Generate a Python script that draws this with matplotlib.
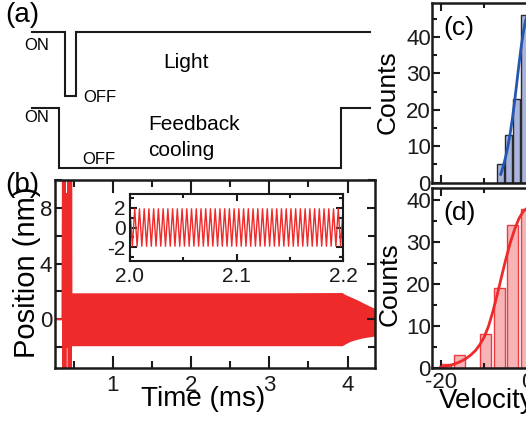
import numpy as np
import matplotlib
matplotlib.use('Agg')
import matplotlib.pyplot as plt
from matplotlib.ticker import MultipleLocator, FixedLocator

plt.rcParams['font.family'] = ['Liberation Sans', 'DejaVu Sans']
plt.rcParams['axes.unicode_minus'] = False

# ---------------- data ----------------
# (a) timing schematic (time in ms, state 1 = ON, 0 = OFF)
light_t = [-0.03, 0.385, 0.385, 0.525, 0.525, 4.29]
light_state = [1, 1, 0, 0, 1, 1]
fb_t = [-0.03, 0.31, 0.31, 3.91, 3.91, 4.29]
fb_state = [1, 1, 0, 0, 1, 1]

# (b) position trace: early part (spikes) and envelope of the fast oscillation
pre_t = [0.26, 0.356, 0.362, 0.368, 0.374, 0.380, 0.386, 0.392, 0.405, 0.415,
         0.430, 0.436, 0.442, 0.448, 0.454, 0.460, 0.466, 0.470]
pre_x = [0, 0, 11, -4, 11, -4, 11, -4, 9, -2, 11, -4, 11, -4, 11, -4, 11, 0]
env_t = [0.47, 1.0, 2.0, 3.0, 3.93, 3.96, 4.02, 4.08, 4.15, 4.21, 4.28, 4.35]
env_upper = [1.9, 1.9, 1.9, 1.9, 1.92, 1.8, 1.65, 1.5, 1.32, 1.14, 0.95, 0.77]
env_lower = [-1.9, -1.9, -1.9, -1.9, -1.9, -1.8, -1.62, -1.5, -1.4, -1.32, -1.26, -1.2]
# inset: zoom 2.0-2.2 ms, 45 oscillation cycles with +-1.9 nm extrema
inset_start, inset_end = 2.0, 2.2
inset_extrema = [1.9, -1.9] * 45 + [1.9]

# (c) velocity histogram (feedback on)
c_centers = [-6.25, -4.4, -2.55, -0.7]
c_counts = [5, 13, 23, 46]
c_fit_v = [-6.2, -5.5, -5.0, -4.5, -4.0, -3.5, -3.0, -2.5, -2.0, -1.5, -1.0, -0.5, 0.0, 0.5]
c_fit_n = [2.3, 5.0, 7.4, 10.2, 13.6, 17.6, 22.2, 27.2, 32.3, 37.0, 41.0, 44.2, 46.3, 47.5]

# (d) velocity histogram (feedback off)
d_centers = [-18.9, -15.8, -12.7, -9.6, -6.5, -3.4, -0.3]
d_counts = [1, 3, 0, 8, 19, 34, 38]
d_fit_v = [-20, -19, -18, -17, -16, -15, -14, -13, -12, -11, -10, -9, -8, -7,
           -6, -5, -4, -3, -2, -1, 0, 1]
d_fit_n = [0.2, 0.4, 0.6, 0.9, 1.3, 1.8, 2.4, 3.2, 4.2, 5.6, 7.4, 10.0, 13.5, 17.5,
           21.8, 26.0, 29.8, 33.0, 35.6, 37.3, 38.2, 38.5]

# ---------------- figure ----------------
W, H = 526, 424
fig = plt.figure(figsize=(W / 100, H / 100), dpi=100)

def box(l, t, r, b):
    return [l / W, 1 - b / H, (r - l) / W, (b - t) / H]

def ftext(x, y, s, **kw):
    fig.text(x / W, 1 - y / H, s, **kw)

RED = '#EE2A2A'
BLK = '#1a1a1a'
TICK_FS = 16

def style(ax, lw=1.8):
    for sp in ax.spines.values():
        sp.set_linewidth(lw)
        sp.set_color(BLK)
    ax.tick_params(which='both', direction='in', top=True, right=True,
                   width=1.5, colors=BLK, labelsize=TICK_FS)
    ax.tick_params(which='major', length=6)
    ax.tick_params(which='minor', length=3.5)

# (a) schematic
xlim_b = (0.26, 4.35)
axa = fig.add_axes(box(55, 0, 375, 180))
axa.set_xlim(*xlim_b)
axa.set_ylim(0, 180 / 61.5)
axa.axis('off')
axa.plot(light_t, [1.37 + 1.03 * s for s in light_state], color=BLK, lw=1.5,
         clip_on=False, solid_joinstyle='miter')
axa.plot(fb_t, [0.195 + 0.975 * s for s in fb_state], color=BLK, lw=1.5,
         clip_on=False, solid_joinstyle='miter')
ftext(5, 15, '(a)', fontsize=20, ha='left', va='center')
ftext(37, 45, 'ON', fontsize=12, ha='center', va='center')
ftext(100, 97, 'OFF', fontsize=12, ha='center', va='center')
ftext(186, 62, 'Light', fontsize=15, ha='center', va='center')
ftext(37, 117, 'ON', fontsize=12, ha='center', va='center')
ftext(99, 160, 'OFF', fontsize=12, ha='center', va='center')
ftext(148, 124, 'Feedback', fontsize=15, ha='left', va='center')
ftext(148, 150, 'cooling', fontsize=15, ha='left', va='center')

# (b) position trace
axb = fig.add_axes(box(55, 180, 375, 368))
axb.plot(pre_t, pre_x, color=RED, lw=1.5)
axb.fill_between(env_t, env_lower, env_upper, color=RED, lw=0)
axb.set_xlim(*xlim_b)
axb.set_ylim(-3.5, 10)
style(axb)
axb.xaxis.set_major_locator(MultipleLocator(1))
axb.xaxis.set_minor_locator(MultipleLocator(0.5))
axb.yaxis.set_major_locator(MultipleLocator(4))
axb.yaxis.set_minor_locator(MultipleLocator(2))
axb.tick_params(which='minor', length=5)
axb.tick_params(axis='x', which='major', length=9, pad=5)
axb.tick_params(axis='y', pad=2)
ftext(5, 185, '(b)', fontsize=20, ha='left', va='center')
ftext(203, 399, 'Time (ms)', fontsize=20, ha='center', va='center')
ftext(27, 272, 'Position (nm)', fontsize=21, ha='center', va='center', rotation=90)

# inset
axi = fig.add_axes(box(130, 194, 343, 261))
ti = np.linspace(inset_start, inset_end, len(inset_extrema))
axi.plot(ti, inset_extrema, color=RED, lw=1.0)
axi.set_xlim(inset_start, inset_end)
axi.set_ylim(-3.4, 3.4)
style(axi, lw=1.5)
axi.tick_params(labelsize=15)
axi.tick_params(which='major', length=5)
axi.tick_params(which='minor', length=3)
axi.set_xticks([2.0, 2.1, 2.2])
axi.set_xticklabels(['2.0', '2.1', '2.2'])
axi.xaxis.set_minor_locator(MultipleLocator(0.05))
axi.yaxis.set_major_locator(MultipleLocator(2))
axi.yaxis.set_minor_locator(MultipleLocator(1))
axi.tick_params(axis='x', pad=4)
axi.tick_params(axis='y', pad=3)

# (c) histogram
axc = fig.add_axes(box(432.3, 3.3, 622.8, 182.7))
axc.bar(c_centers, c_counts, width=1.45, color='#A9B5DD', edgecolor='#2a2a2a', lw=1.0)
axc.plot(c_fit_v, c_fit_n, color='#2457B2', lw=2.0)
axc.set_xlim(-22, 22)
axc.set_ylim(0, 49.2)
style(axc)
axc.xaxis.set_major_locator(MultipleLocator(20))
axc.xaxis.set_minor_locator(MultipleLocator(10))
axc.yaxis.set_major_locator(MultipleLocator(10))
axc.yaxis.set_minor_locator(MultipleLocator(5))
axc.tick_params(axis='x', labelbottom=False)
axc.tick_params(axis='y', pad=1)
axc.text(0.06, 0.93, '(c)', transform=axc.transAxes, fontsize=19, ha='left', va='top')
ftext(388, 92, 'Counts', fontsize=19, ha='center', va='center', rotation=90)

# (d) histogram
axd = fig.add_axes(box(432.3, 188, 622.8, 368))
axd.bar(d_centers, d_counts, width=2.54, color='#F6B4B7', edgecolor='#EE3A40', lw=1.0)
axd.plot(d_fit_v, d_fit_n, color=RED, lw=2.0)
axd.set_xlim(-22, 22)
axd.set_ylim(0, 42.9)
style(axd)
axd.xaxis.set_major_locator(MultipleLocator(20))
axd.xaxis.set_minor_locator(MultipleLocator(10))
axd.yaxis.set_major_locator(MultipleLocator(10))
axd.yaxis.set_minor_locator(MultipleLocator(5))
axd.tick_params(axis='y', pad=1)
axd.tick_params(axis='x', pad=3)
axd.text(0.06, 0.93, '(d)', transform=axd.transAxes, fontsize=19, ha='left', va='top')
ftext(390, 284, 'Counts', fontsize=19, ha='center', va='center', rotation=90)
ftext(439, 401, 'Velocity', fontsize=20, ha='left', va='center')

fig.savefig('out.png', dpi=100)
